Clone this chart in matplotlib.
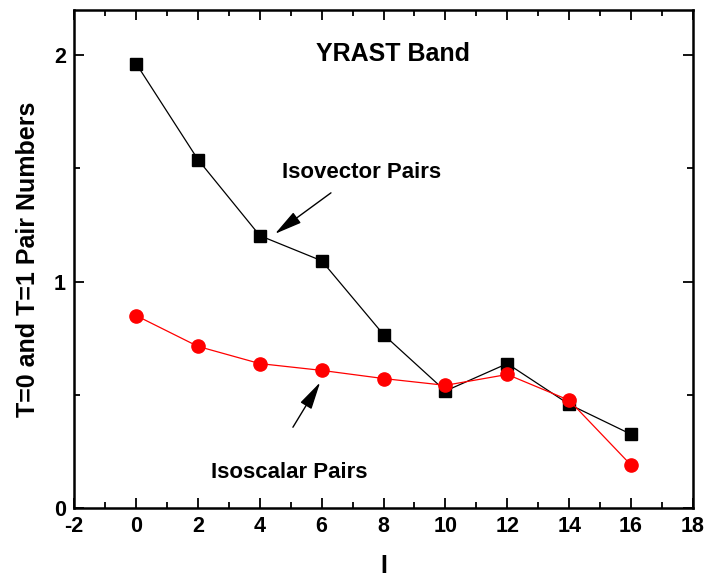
import matplotlib
matplotlib.use("Agg")
import matplotlib.pyplot as plt
from matplotlib import font_manager

I_vals = [0, 2, 4, 6, 8, 10, 12, 14, 16]
isovector = [1.963, 1.539, 1.203, 1.092, 0.766, 0.517, 0.638, 0.458, 0.326]
isoscalar = [0.850, 0.714, 0.638, 0.608, 0.572, 0.542, 0.590, 0.476, 0.190]

names = {f.name for f in font_manager.fontManager.ttflist}
fam = ['Liberation Sans Narrow', 'Liberation Sans', 'DejaVu Sans']
fam = [f for f in fam if f in names] or ['DejaVu Sans']
plt.rcParams['font.family'] = fam
plt.rcParams['font.weight'] = 'bold'
plt.rcParams['axes.unicode_minus'] = False

fig = plt.figure(figsize=(7.07, 5.80), dpi=100)
ax = fig.add_axes([0.105, 0.124, 0.875, 0.859])

ax.plot(I_vals, isovector, color='black', lw=0.9, marker='s', ms=8.5, mec='black', mfc='black')
ax.plot(I_vals, isoscalar, color='red', lw=0.9, marker='o', ms=9.5, mec='red', mfc='red')

ax.set_xlim(-2, 18)
ax.set_ylim(0, 2.2)
ax.set_xticks(range(-2, 19, 2))
ax.set_xticks(range(-1, 18, 2), minor=True)
ax.set_yticks([0, 1, 2])
ax.set_yticks([0.5, 1.5], minor=True)
ax.tick_params(which='both', direction='in', top=True, right=True, width=1.3,
               labelsize=15.5, pad=6)
ax.tick_params(which='major', length=7)
ax.tick_params(which='minor', length=4)
for lab in ax.get_xticklabels() + ax.get_yticklabels():
    lab.set_fontweight('bold')
for s in ax.spines.values():
    s.set_linewidth(1.8)

ax.set_xlabel('I', fontsize=18, fontweight='bold', labelpad=12)
ax.set_ylabel('T=0 and T=1 Pair Numbers', fontsize=18, fontweight='bold', labelpad=10)

ax.text(8.31, 2.007, 'YRAST Band', fontsize=18, fontweight='bold', ha='center', va='center')

arrow = dict(arrowstyle='-|>,head_length=0.85,head_width=0.2', color='black', lw=1.0,
             mutation_scale=20, shrinkA=0, shrinkB=0)
ax.text(7.28, 1.48, 'Isovector Pairs', fontsize=16, fontweight='bold', ha='center', va='center')
ax.annotate('', xy=(4.49, 1.211), xytext=(6.30, 1.392), arrowprops=arrow)
ax.text(4.95, 0.155, 'Isoscalar Pairs', fontsize=16, fontweight='bold', ha='center', va='center')
ax.annotate('', xy=(5.95, 0.555), xytext=(5.07, 0.357), arrowprops=arrow)

fig.savefig('out.png', dpi=100)
